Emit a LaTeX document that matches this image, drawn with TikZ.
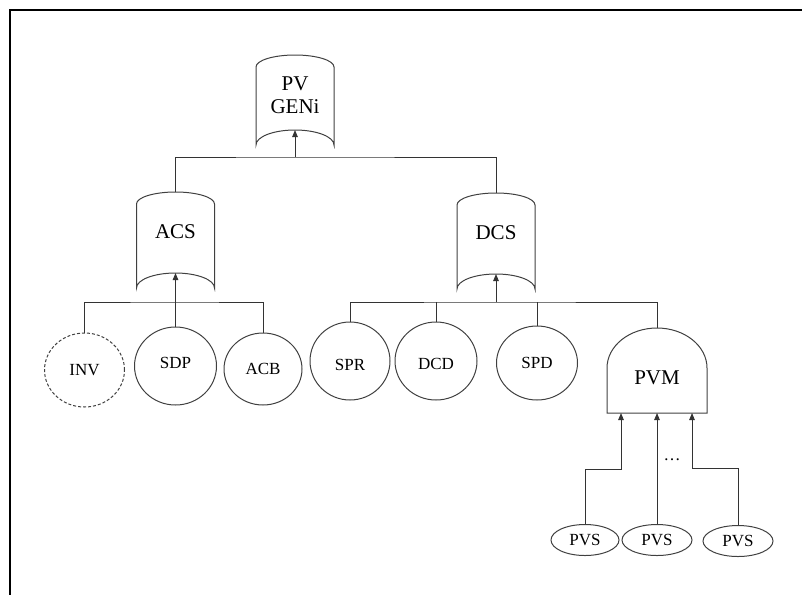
\documentclass[tikz,border=0pt]{standalone}
\usepackage{fontspec}
\setmainfont{Liberation Serif}
\usetikzlibrary{shapes.geometric,arrows.meta}

% shift a label vertically inside its node while keeping the node's size
\newcommand\nudge[2]{\raisebox{#1}[11.25pt][0pt]{#2}}

\tikzset{
  wire/.style={draw=black!80, line width=1pt},
  arr/.style={wire, -{Triangle[length=7pt,width=5.5pt]}},
  gate/.style={draw=black!75, line width=1pt},
  gatetext/.style={font=\fontsize{21}{23}\selectfont, align=center, inner sep=0pt},
  event/.style={ellipse, draw=black!75, line width=1pt, inner sep=0pt,
    font=\fontsize{17}{20}\selectfont},
  undeveloped/.style={event, dash pattern=on 3pt off 2pt},
  % OR gate: #1 = depth of the side walls below the top, #2 = label
  pics/orgate/.style args={#1/#2}{code={
    \draw[gate] (-39,-12) -- (-39,-#1)
      arc[start angle=180, end angle=0, x radius=39pt, y radius=15pt]
      -- (39,-12)
      arc[start angle=0, end angle=180, x radius=39pt, y radius=12pt] -- cycle;
    \coordinate (-top) at (0,0);
    \coordinate (-in) at (0,-#1+15);
    \node[gatetext] (-label) at (0,-40) {#2};
  }},
  % AND gate with three inputs along its flat base
  pics/andgate/.style={code={
    \draw[gate] (-50,-40) -- (-50,-85) -- (50,-85) -- (50,-40)
      arc[start angle=0, end angle=180, x radius=50pt, y radius=40pt] -- cycle;
    \coordinate (-top) at (0,0);
    \coordinate (-in1) at (-36,-85);
    \coordinate (-in2) at (0,-85);
    \coordinate (-in3) at (35,-85);
    \node[gatetext] (-label) at (0,-50) {#1};
  }}
}

\begin{document}
\begin{tikzpicture}[x=1pt, y=1pt]
\useasboundingbox (0,0) rectangle (802,-595);

% page frame
\draw[line width=1.6pt] (802,-10) -- (10,-10) -- (10,-595);

% gates
\pic (pv)  at (295,-55)    {orgate={90/PV\\GENi}};
\pic (acs) at (175.5,-192) {orgate={96/ACS}};
\pic (dcs) at (496,-193)   {orgate={96/DCS}};
\pic (pvm) at (657,-328)   {andgate={PVM}};

% basic events
\node[undeveloped, minimum width=80pt, minimum height=74pt] (inv) at (84.5,-370) {INV};
\node[event, minimum width=82pt, minimum height=78pt] (sdp) at (175.5,-366) {\nudge{3pt}{SDP}};
\node[event, minimum width=78pt, minimum height=72pt] (acb) at (263,-369) {ACB};
\node[event, minimum width=80pt, minimum height=78pt] (spr) at (350,-361) {\nudge{-4pt}{SPR}};
\node[event, minimum width=82pt, minimum height=78pt] (dcd) at (436,-361) {\nudge{-3pt}{DCD}};
\node[event, minimum width=81pt, minimum height=74pt] (spd) at (537,-363) {SPD};
\node[event, minimum width=68pt, minimum height=31pt] (pvs1) at (585,-540) {PVS};
\node[event, minimum width=70pt, minimum height=31pt] (pvs2) at (657,-540) {PVS};
\node[event, minimum width=70pt, minimum height=31pt] (pvs3) at (738,-541) {PVS};
\node[font=\fontsize{17}{20}\selectfont, inner sep=0pt] (more) at (672,-460) {\ldots};

% bus junctions
\coordinate (pvbus)  at (295,-157);
\coordinate (acsbus) at (175.5,-302);
\coordinate (dcsbus) at (496,-302);

% top level
\draw[wire] (acs-top) |- (pvbus) -| (dcs-top);
\draw[arr] (pvbus) -- (pv-in);

% ACS inputs
\draw[wire] (inv.north) |- (acsbus) -| (acb.north);
\draw[wire] (sdp.north) -- (acsbus);
\draw[arr] (acsbus) -- (acs-in);

% DCS inputs
\draw[wire] (spr.north) |- (dcsbus) -| (pvm-top);
\draw[wire] (dcd.north) -- (dcd.north |- dcsbus);
\draw[wire] (spd.north) -- (spd.north |- dcsbus);
\draw[arr] (dcsbus) -- (dcs-in);

% PVM inputs
\draw[arr] (pvs1.north) -- ++(0,55) -| (pvm-in1);
\draw[arr] (pvs2.north) -- (pvm-in2);
\draw[arr] (pvs3.north) -- ++(0,57) -| (pvm-in3);
\end{tikzpicture}
\end{document}
